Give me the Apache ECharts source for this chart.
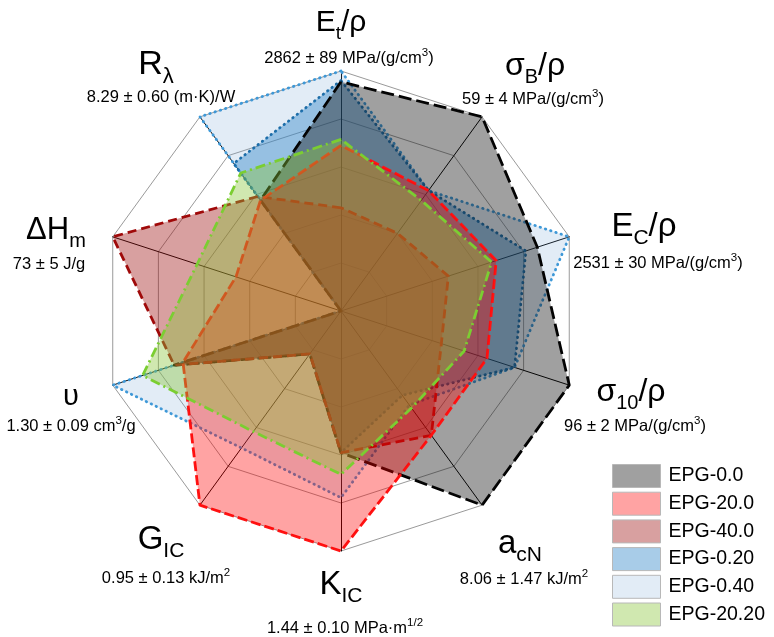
<!DOCTYPE html>
<html>
<head>
<meta charset="utf-8">
<script src="https://cdn.jsdelivr.net/npm/echarts@6/dist/echarts.min.js"></script>
<style>
html, body { margin: 0; padding: 0; background: #ffffff; }
#chart { width: 774px; height: 637px; }
</style>
</head>
<body>
<div id="chart"></div>
<script>
// Property axes, listed clockwise starting at the top
const axisKeys = ['Et/ρ', 'σB/ρ', 'EC/ρ', 'σ10/ρ', 'acN', 'KIC', 'GIC', 'υ', 'ΔHm', 'Rλ'];
// Best value of each property (outer ring)
const axisMax = [2862, 59, 2531, 96, 8.06, 1.44, 0.95, 1.30, 73, 8.29];

// Sample names (legend order)
const sampleNames = ['EPG-0.0', 'EPG-20.0', 'EPG-40.0', 'EPG-0.20', 'EPG-0.40', 'EPG-20.20'];

// Property values per sample, same order as axisKeys
const epg_0_0   = [2733, 59.0, 2177, 96.0, 8.06, 0.85, 0.21, 0.95, 0, 4.73];
const epg_20_0  = [1975, 36.6, 1721, 61.4, 5.16, 1.44, 0.95, 0.90, 33.6, 4.73];
const epg_40_0  = [1231, 23.6, 1190, 42.2, 5.16, 0.85, 0.21, 0.95, 73, 4.89];
const epg_0_20  = [2748, 36.6, 2050, 73.0, 3.50, 0.85, 0.21, 0.95, 0, 6.30];
const epg_0_40  = [2862, 36.6, 2531, 73.0, 3.90, 1.12, 0.67, 1.30, 0, 8.29];
const epg_20_20 = [2046, 33.6, 1670, 51.8, 4.03, 0.98, 0.59, 1.13, 46, 5.89];

// Axis titles (rich text: m = main, s = subscript) and best-value captions (v = text, p = superscript)
const axisTitles = [
  '{m|E}{s|t}{m|/ρ}', '{m|σ}{s|B}{m|/ρ}', '{m|E}{s|C}{m|/ρ}', '{m|σ}{s|10}{m|/ρ}', '{m|a}{s|cN}',
  '{m|K}{s|IC}', '{m|G}{s|IC}', '{m|υ}', '{m|ΔH}{s|m}', '{m|R}{s|λ}'
];
const axisCaptions = [
  '{v|2862 ± 89 MPa/(g/cm}{p|3}{v|)}',
  '{v|59 ± 4 MPa/(g/cm}{p|3}{v|)}',
  '{v|2531 ± 30 MPa/(g/cm}{p|3}{v|)}',
  '{v|96 ± 2 MPa/(g/cm}{p|3}{v|)}',
  '{v|8.06 ± 1.47 kJ/m}{p|2}',
  '{v|1.44 ± 0.10 MPa·m}{p|1/2}',
  '{v|0.95 ± 0.13 kJ/m}{p|2}',
  '{v|1.30 ± 0.09 cm}{p|3}{v|/g}',
  '{v|73 ± 5 J/g}',
  '{v|8.29 ± 0.60 (m·K)/W}'
];
const titleSize = [30, 32, 33, 32, 33, 33, 33, 29, 31, 34];
const titlePos = [[341, 23], [535, 66], [644, 227], [631, 392], [520, 544],
                  [341, 585], [161, 540], [71, 397], [56, 230], [156, 65]];
const captionPos = [[349, 58], [533, 99], [658, 263], [635, 426], [524, 579],
                    [345, 628], [166, 578], [71, 426], [49, 264], [161, 97]];

const FONT = '"Liberation Sans", Arial, Helvetica, sans-serif';

// Drawing styles per sample
const styles = {
  'EPG-0.0':   { swatch: '#a0a0a0', area: 'rgba(18,18,18,0.40)',    line: '#000000', dash: [13, 5], cap: 'butt' },
  'EPG-20.0':  { swatch: '#ffa3a3', area: 'rgba(255,0,0,0.36)',     line: '#ff1414', dash: [10, 4], cap: 'butt' },
  'EPG-40.0':  { swatch: '#d8a0a0', area: 'rgba(158,18,18,0.40)',   line: '#a00808', dash: [9, 5],  cap: 'butt' },
  'EPG-0.20':  { swatch: '#a8cce8', area: 'rgba(38,128,198,0.40)',  line: '#1b6aa3', dash: [0.5, 5], cap: 'round' },
  'EPG-0.40':  { swatch: '#e2ecf6', area: 'rgba(110,160,210,0.20)', line: '#3a98d8', dash: [0.5, 5], cap: 'round' },
  'EPG-20.20': { swatch: '#d0e8b0', area: 'rgba(138,198,58,0.40)',  line: '#78d030', dash: [10, 4, 2, 4], cap: 'butt' }
};

const sampleValues = {
  'EPG-0.0': epg_0_0, 'EPG-20.0': epg_20_0, 'EPG-40.0': epg_40_0,
  'EPG-0.20': epg_0_20, 'EPG-0.40': epg_0_40, 'EPG-20.20': epg_20_20
};
// Painting order, bottom to top
const paintOrder = ['EPG-0.40', 'EPG-0.20', 'EPG-0.0', 'EPG-40.0', 'EPG-20.0', 'EPG-20.20'];

// ECharts lays radar indicators out counter-clockwise; reorder so the axes run clockwise
const layout = axisKeys.map((_, k) => (axisKeys.length - k) % axisKeys.length);

const indicator = layout.map(k => ({ name: axisKeys[k], min: 0, max: axisMax[k] }));

const series = paintOrder.map(name => {
  const st = styles[name];
  return {
    type: 'radar',
    name: name,
    silent: true,
    symbol: 'none',
    itemStyle: { color: st.swatch },
    lineStyle: { color: st.line, width: 2.8, type: st.dash, cap: st.cap },
    areaStyle: { color: st.area, opacity: 1 },
    emphasis: { disabled: true },
    data: [{ name: name, value: layout.map(k => sampleValues[name][k]) }]
  };
});

function titleRich(size) {
  const sub = Math.round(size * 0.64);
  return {
    m: { fontSize: size, fontFamily: FONT, color: '#000', lineHeight: size + 6 },
    s: { fontSize: sub, fontFamily: FONT, color: '#000', lineHeight: sub, padding: [Math.round(size * 0.7), 0, 0, 0] }
  };
}
const captionRich = {
  v: { fontSize: 16.5, fontFamily: FONT, color: '#000', lineHeight: 20 },
  p: { fontSize: 11.5, fontFamily: FONT, color: '#000', lineHeight: 12, padding: [0, 0, 10, 0] }
};

const graphic = [];
axisTitles.forEach((t, i) => {
  graphic.push({
    type: 'text', x: titlePos[i][0], y: titlePos[i][1], silent: true,
    style: { text: t, rich: titleRich(titleSize[i]), align: 'center', verticalAlign: 'middle', fill: '#000' }
  });
  graphic.push({
    type: 'text', x: captionPos[i][0], y: captionPos[i][1], silent: true,
    style: { text: axisCaptions[i], rich: captionRich, align: 'center', verticalAlign: 'middle', fill: '#000' }
  });
});

const chart = echarts.init(document.getElementById('chart'));
chart.setOption({
  animation: false,
  backgroundColor: '#ffffff',
  radar: {
    center: [341, 311],
    radius: 240,
    startAngle: 90,
    shape: 'polygon',
    splitNumber: 5,
    indicator: indicator,
    axisName: { show: false },
    axisLine: { lineStyle: { color: '#000000', width: 1 } },
    axisTick: { show: false },
    axisLabel: { show: false },
    splitLine: { lineStyle: { color: '#9a9a9a', width: 1 } },
    splitArea: { show: false }
  },
  legend: {
    orient: 'vertical',
    left: 612,
    top: 464,
    padding: 0,
    itemWidth: 48,
    itemHeight: 23,
    itemGap: 3.7,
    selectedMode: false,
    textStyle: { fontSize: 19.5, fontFamily: FONT, color: '#000', padding: [0, 0, 0, 3] },
    data: sampleNames.map(n => ({
      name: n,
      icon: 'rect',
      itemStyle: { color: styles[n].swatch, borderColor: '#b8b8b8', borderWidth: 1 },
      lineStyle: { width: 0, opacity: 0 }
    }))
  },
  graphic: graphic,
  series: series
});
</script>
</body>
</html>
